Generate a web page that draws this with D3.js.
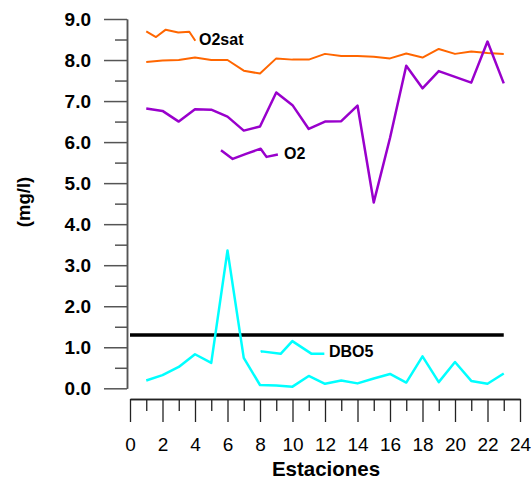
<!DOCTYPE html>
<html>
<head>
<meta charset="utf-8">
<script src="https://cdn.jsdelivr.net/npm/d3@7"></script>
<style>
  body { margin: 0; background: #fff; }
  svg { font-family: "Liberation Sans", Arial, sans-serif; }
</style>
</head>
<body>
<svg id="chart" width="531" height="481"></svg>
<script>
// Estaciones 1..23
let estaciones = d3.range(1, 24);

// series values (mg/l)
let o2sat = [7.95, 7.99, 8.0, 8.06, 8.0, 8.0, 7.74, 7.67, 8.04, 8.01, 8.01, 8.15,
             8.1, 8.1, 8.08, 8.04, 8.16, 8.06, 8.27, 8.15, 8.21, 8.17, 8.15];
let o2 = [6.82, 6.76, 6.5, 6.8, 6.79, 6.62, 6.28, 6.38, 7.21, 6.9, 6.32, 6.5,
          6.51, 6.89, 4.53, 6.1, 7.86, 7.31, 7.73, 7.59, 7.45, 8.45, 7.43];
let dbo5 = [0.19, 0.32, 0.52, 0.83, 0.62, 3.36, 0.74, 0.08, 0.07, 0.04, 0.3, 0.11,
            0.19, 0.12, 0.24, 0.35, 0.14, 0.78, 0.15, 0.64, 0.18, 0.11, 0.36];

// reference level (black line)
let limite = 1.3;

// legend samples drawn next to each label
let leg_o2sat_x = [1, 1.6, 2.2, 2.97, 3.65, 4.02];
let leg_o2sat_y = [8.70, 8.56, 8.74, 8.67, 8.69, 8.47];
let leg_o2_x = [5.6, 6.32, 7.18, 8.04, 8.4, 9.1];
let leg_o2_y = [5.80, 5.59, 5.72, 5.84, 5.64, 5.70];
let leg_dbo5_x = [8.04, 8.1, 9.27, 9.99, 11.18, 11.96];
let leg_dbo5_y = [0.89, 0.90, 0.84, 1.15, 0.84, 0.84];

let x_major = d3.range(0, 25, 2);
let x_minor = d3.range(1, 24, 2);
let y_major = d3.range(0, 9.01, 1);
let y_minor = d3.range(0.5, 9, 1);

let chart = d3.select("#chart");

// scales
let x = d3.scaleLinear().domain([0, 24]).range([130, 520]);
let y = d3.scaleLinear().domain([0, 9]).range([388.3, 19]);

// y axis
let yAxisG = chart.append("g").attr("transform", "translate(127,0)");
yAxisG.append("g")
    .call(d3.axisLeft(y).tickValues(y_minor).tickSize(12).tickSizeOuter(0).tickFormat(""));
yAxisG.append("g")
    .call(d3.axisLeft(y).tickValues(y_major).tickSize(23).tickSizeOuter(0)
        .tickPadding(13).tickFormat(d3.format(".1f")));
yAxisG.selectAll("path, line").attr("stroke", "#555").attr("stroke-width", 1.5);
yAxisG.selectAll("text")
    .attr("font-size", "19px").attr("font-weight", "bold")
    .attr("fill", "#000").attr("font-family", "Liberation Sans, Arial, sans-serif");

// x axis
let xAxisG = chart.append("g").attr("transform", "translate(0,399)");
xAxisG.append("g")
    .call(d3.axisBottom(x).tickValues(x_minor).tickSize(12).tickSizeOuter(0).tickFormat(""));
xAxisG.append("g")
    .call(d3.axisBottom(x).tickValues(x_major).tickSize(23).tickSizeOuter(0).tickPadding(16));
xAxisG.selectAll("path, line").attr("stroke", "#222").attr("stroke-width", 1.3);
xAxisG.selectAll("text")
    .attr("font-size", "19px").attr("fill", "#000")
    .attr("font-family", "Liberation Sans, Arial, sans-serif");

// axis titles
chart.append("text")
    .attr("x", 326).attr("y", 476)
    .attr("text-anchor", "middle")
    .attr("font-size", "20.5px").attr("font-weight", "bold")
    .text("Estaciones");

chart.append("text")
    .attr("transform", "translate(30,202) rotate(-90)")
    .attr("text-anchor", "middle")
    .attr("font-size", "18.5px").attr("font-weight", "bold")
    .text("(mg/l)");

// lines
let line = d3.line()
    .x(function(d){ return x(d[0]); })
    .y(function(d){ return y(d[1]); });

function draw_series(xs, ys, color, width){
    chart.append("path")
        .datum(d3.zip(xs, ys))
        .attr("fill", "none")
        .attr("stroke", color)
        .attr("stroke-width", width)
        .attr("stroke-linejoin", "round")
        .attr("d", line);
}

// black reference line
draw_series([0, 23], [limite, limite], "#000", 3.5);

draw_series(estaciones, o2sat, "#ff6600", 2);
draw_series(estaciones, o2, "#9900cc", 2.5);
draw_series(estaciones, dbo5, "#00ffff", 2.5);

draw_series(leg_o2sat_x, leg_o2sat_y, "#ff6600", 2);
draw_series(leg_o2_x, leg_o2_y, "#9900cc", 2.5);
draw_series(leg_dbo5_x, leg_dbo5_y, "#00ffff", 2.5);

// labels
let labels = [
    { text: "O2sat", px: 199, py: 45 },
    { text: "O2", px: 284, py: 159 },
    { text: "DBO5", px: 329, py: 357 }
];
chart.selectAll("text.lbl")
    .data(labels).enter()
    .append("text")
        .attr("class", "lbl")
        .attr("x", function(d){ return d.px; })
        .attr("y", function(d){ return d.py; })
        .attr("font-size", "16px")
        .attr("font-weight", "bold")
        .text(function(d){ return d.text; });
</script>
</body>
</html>
